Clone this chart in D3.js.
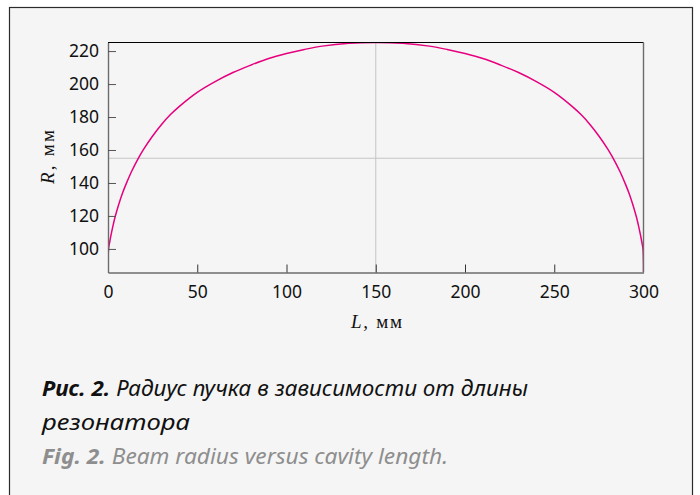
<!DOCTYPE html>
<html>
<head>
<meta charset="utf-8">
<script src="https://cdn.jsdelivr.net/npm/d3@7"></script>
<style>
  html, body { margin: 0; padding: 0; background: #ffffff; }
  svg { display: block; }
</style>
</head>
<body>
<div id="chart"></div>
<script>
// Data (L in mm, R in mm), left half up to the peak at 150
var lengthsLeft = [0, 0.3, 1, 2, 3, 4, 6, 8, 10, 13, 16, 20, 25, 30, 35, 40, 50, 60, 70, 80, 90, 100, 110, 120, 135, 150];
var radiiLeft   = [86, 100, 104.5, 110, 115, 119.5, 127, 133.5, 139, 146.5, 153, 160.5, 168.5, 175.5, 181.5, 186.5,
                   195, 201.5, 207, 211.5, 215.5, 218.5, 221, 223, 224.7, 225.2];
// Right half (the curve is mirror-like about L = 150)
var lengthsRight = [165, 180, 190, 200, 210, 220, 230, 240, 250, 260, 265, 270, 275, 280, 284, 287, 290, 292, 294, 296, 297, 298, 299, 299.7, 300];
var radiiRight   = [224.7, 223, 221, 218.5, 215.5, 211.5, 207, 201.5, 195, 186.5, 181.5, 175.5, 168.5, 160.5, 153, 146.5,
                    139, 133.5, 127, 119.5, 115, 110, 104.5, 100, 86];
var xTicks = [0, 50, 100, 150, 200, 250, 300];
var yTicks = [100, 120, 140, 160, 180, 200, 220];
var gridL = 150;
var gridR = 155;

var lengths = lengthsLeft.concat(lengthsRight);
var radii = radiiLeft.concat(radiiRight);
var data = lengths.map((d, i) => ({L: d, R: radii[i]}));

var svgWidth = 700;
var svgHeight = 495;

var plot = {left: 108, top: 42.5, right: 643.5, bottom: 272.5};

var svg = d3.select("#chart")
    .append("svg")
    .attr("width", svgWidth)
    .attr("height", svgHeight);

// Outer frame
svg.append("rect")
    .attr("x", 9.5)
    .attr("y", 7.5)
    .attr("width", 683)
    .attr("height", 500)
    .attr("fill", "#f5f5f5")
    .attr("stroke", "#2b2b2b")
    .attr("stroke-width", 1.2);

var x = d3.scaleLinear().domain([0, 300]).range([plot.left, plot.right]);
var y = d3.scaleLinear().domain([85.7, 225.2]).range([plot.bottom, plot.top]);

svg.append("clipPath")
    .attr("id", "clip")
    .append("rect")
    .attr("x", plot.left)
    .attr("y", plot.top)
    .attr("width", plot.right - plot.left)
    .attr("height", plot.bottom - plot.top);

// Grid lines
svg.append("line")
    .attr("x1", x(gridL)).attr("x2", x(gridL))
    .attr("y1", plot.top).attr("y2", plot.bottom)
    .attr("stroke", "#c4c4c4").attr("stroke-width", 1);
svg.append("line")
    .attr("x1", plot.left).attr("x2", plot.right)
    .attr("y1", y(gridR)).attr("y2", y(gridR))
    .attr("stroke", "#c4c4c4").attr("stroke-width", 1);

// Curve
var line = d3.line()
    .x(d => x(d.L))
    .y(d => y(d.R))
    .curve(d3.curveCatmullRom.alpha(0.5));

svg.append("path")
    .datum(data)
    .attr("clip-path", "url(#clip)")
    .attr("d", line)
    .attr("fill", "none")
    .attr("stroke", "#e6007e")
    .attr("stroke-width", 1.5);

// Top border of plot
svg.append("line")
    .attr("x1", plot.left).attr("x2", plot.right)
    .attr("y1", plot.top).attr("y2", plot.top)
    .attr("stroke", "#000").attr("stroke-width", 1);
// Right border
svg.append("line")
    .attr("x1", plot.right).attr("x2", plot.right)
    .attr("y1", plot.top).attr("y2", plot.bottom)
    .attr("stroke", "#6b6b6b").attr("stroke-width", 1.4);

// Axes
var bottomAxis = d3.axisBottom(x).tickValues(xTicks).tickSize(0).tickPadding(13);
var leftAxis = d3.axisLeft(y).tickValues(yTicks).tickSize(0).tickPadding(9);

var xAxis = svg.append("g")
    .attr("transform", `translate(0, ${plot.bottom})`)
    .call(bottomAxis);
var yAxis = svg.append("g")
    .attr("transform", `translate(${plot.left}, 0)`)
    .call(leftAxis);

[xAxis, yAxis].forEach(g => {
    g.select(".domain").attr("stroke", "#6b6b6b").attr("stroke-width", 1.4);
    g.selectAll("text")
        .attr("fill", "#111")
        .style("font-family", "'Noto Sans', sans-serif")
        .style("font-size", "17.5px");
});

// Inward ticks
xAxis.selectAll(".tick")
    .filter(d => d !== 0 && d !== 300)
    .append("line")
    .attr("y1", 0).attr("y2", -8)
    .attr("stroke", "#333").attr("stroke-width", 1);
yAxis.selectAll(".tick")
    .append("line")
    .attr("x1", 0).attr("x2", 8)
    .attr("stroke", "#555").attr("stroke-width", 1);

// Axis titles
var xTitle = svg.append("text")
    .attr("x", 351)
    .attr("y", 328)
    .attr("textLength", 51)
    .attr("lengthAdjust", "spacing")
    .style("font-family", "'Liberation Serif', serif")
    .style("font-size", "19px")
    .attr("fill", "#111");
xTitle.append("tspan").style("font-style", "italic").text("L");
xTitle.append("tspan").text(", мм");

var yTitle = svg.append("text")
    .attr("transform", `translate(54, 184) rotate(-90)`)
    .attr("textLength", 54)
    .attr("lengthAdjust", "spacing")
    .style("font-family", "'Liberation Serif', serif")
    .style("font-size", "19px")
    .attr("fill", "#111");
yTitle.append("tspan").style("font-style", "italic").text("R");
yTitle.append("tspan").text(", мм");

// Caption
var capFont = "'Noto Sans', sans-serif";
var cap1 = svg.append("text")
    .attr("x", 42).attr("y", 396)
    .style("font-family", capFont)
    .style("font-size", "22px")
    .style("font-style", "italic")
    .attr("fill", "#111")
    .attr("textLength", 486)
    .attr("lengthAdjust", "spacingAndGlyphs");
cap1.append("tspan").style("font-weight", "bold").text("Рис. 2.");
cap1.append("tspan").text(" Радиус пучка в зависимости от длины");

svg.append("text")
    .attr("x", 42).attr("y", 430)
    .style("font-family", capFont)
    .style("font-size", "22px")
    .style("font-style", "italic")
    .attr("fill", "#111")
    .attr("textLength", 148)
    .attr("lengthAdjust", "spacingAndGlyphs")
    .text("резонатора");

var cap3 = svg.append("text")
    .attr("x", 42).attr("y", 464)
    .style("font-family", capFont)
    .style("font-size", "22px")
    .style("font-style", "italic")
    .attr("fill", "#8e8e8e")
    .attr("textLength", 406)
    .attr("lengthAdjust", "spacingAndGlyphs");
cap3.append("tspan").style("font-weight", "bold").text("Fig. 2.");
cap3.append("tspan").text(" Beam radius versus cavity length.");
</script>
</body>
</html>
